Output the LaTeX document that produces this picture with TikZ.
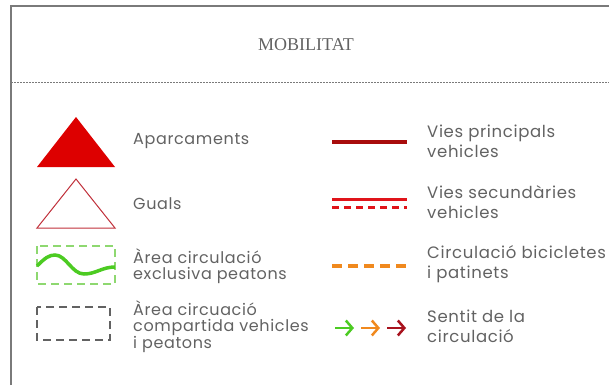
\documentclass[tikz,border=0pt]{standalone}
\usepackage{fontspec}
\setmainfont{Poppins}[LetterSpace=4]
\newfontfamily\titlefont{Liberation Serif}
\usetikzlibrary{arrows.meta,positioning}
\definecolor{txtgray}{HTML}{626262}
\definecolor{framegray}{HTML}{7A7A7A}
\definecolor{parkred}{HTML}{DD0000}
\definecolor{gualred}{HTML}{C0303A}
\definecolor{mainred}{HTML}{A80C0C}
\definecolor{secred}{HTML}{E0141A}
\definecolor{walkgreen}{HTML}{4CCB22}
\definecolor{lightgreen}{HTML}{8ED870}
\definecolor{bikeorange}{HTML}{F0891E}
\definecolor{darkarrow}{HTML}{A8121E}

\begin{document}
\begin{tikzpicture}[
    x=1pt, y=-1pt,
    lab/.style={anchor=west, align=left, text=txtgray, inner sep=0pt, font=\fontsize{16}{15.5}\selectfont},
    labwide/.style={lab, font=\fontsize{16.5}{20}\selectfont},
    frame/.style={draw=framegray, line width=1.2pt},
    road/.style={line width=3.5pt},
    box/.style={line width=1.1pt, dash pattern=on 8pt off 5pt},
    dirarrow/.style={line width=2.5pt, -{Straight Barb[length=6.5pt, width=15pt]}}
]
\useasboundingbox (0,0) rectangle (609,385);
% frame and title
\draw[frame] (11,385) |- (609,6);
\draw[draw=framegray, line width=0.6pt, dash pattern=on 2pt off 1pt] (11,82) -- (609,82);
\node[font=\titlefont\fontsize{18}{18}\selectfont, text=txtgray] (title) at (306,45) {MOBILITAT};

% left column symbols
\fill[parkred] (37,167) -- (76,117) -- (115,167) -- cycle;
\draw[gualred, line width=1pt] (37,228) -- (76,179) -- (115,228) -- cycle;
\draw[lightgreen, box] (37,246) rectangle (115,284);
\draw[walkgreen, line width=3.5pt] (37,266) .. controls (45,258) and (49,255) .. (55,255)
    .. controls (66,255) and (72,274) .. (84,274) .. controls (96,274) and (102,267) .. (115,267);
\draw[framegray!80!black, box] (37,307) rectangle (110,340);

% left column labels
\node[lab] (park) at (133,141) {Aparcaments};
\node[lab] (guals) at (133,204) {Guals};
\node[lab] (walk) at (133,266) {Àrea circulació\\exclusiva peatons};
\node[lab] (shared) at (133,327) {Àrea circuació\\compartida vehicles\\i peatons};

% right column symbols
\draw[mainred, road] (332,142) -- (407,142);
\draw[secred, line width=3pt] (332,199) -- (407,199);
\draw[secred, line width=3pt, dash pattern=on 7pt off 5pt] (332,207) -- (407,207);
\draw[bikeorange, road, dash pattern=on 10pt off 6pt] (332,266) -- (407,266);
\coordinate (g0) at (335,328); \coordinate (g1) at (354,328);
\coordinate (o0) at (361,328); \coordinate (o1) at (380,328);
\coordinate (r0) at (387,328); \coordinate (r1) at (406,328);
\draw[dirarrow, walkgreen] (g0) -- (g1);
\draw[dirarrow, bikeorange] (o0) -- (o1);
\draw[dirarrow, darkarrow] (r0) -- (r1);

% right column labels
\node[labwide] (mainroad) at (427,141) {Vies principals\\vehicles};
\node[labwide] (secroad) at (427,202) {Vies secundàries\\vehicles};
\node[labwide] (bike) at (427,264) {Circulació bicicletes\\i patinets};
\node[labwide] (dir) at (427,326) {Sentit de la\\circulació};
\end{tikzpicture}
\end{document}
